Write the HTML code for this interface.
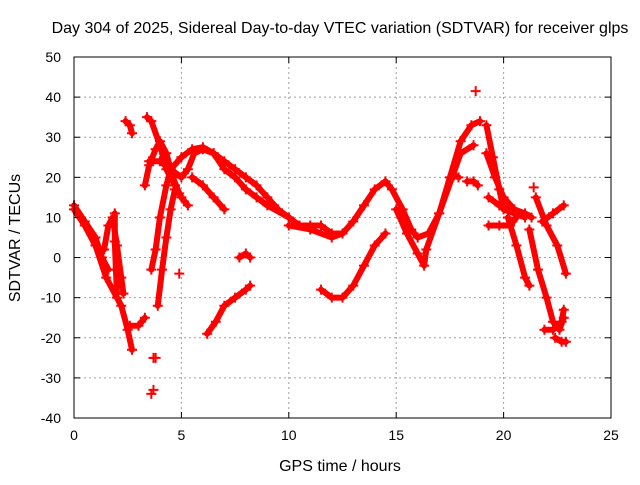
<!DOCTYPE html>
<html><head><meta charset="utf-8">
<style>
body{margin:0;background:#fff;}
svg text{font-family:"Liberation Sans",sans-serif;fill:#000;}
</style></head>
<body>
<svg id="chart" width="640" height="480" viewBox="0 0 640 480" xmlns="http://www.w3.org/2000/svg">
<text x="340" y="33" font-size="16" text-anchor="middle">Day 304 of 2025, Sidereal Day-to-day VTEC variation (SDTVAR) for receiver glps</text>
<text x="340" y="471" font-size="16" text-anchor="middle">GPS time / hours</text>
<text x="20" y="238" font-size="16" text-anchor="middle" transform="rotate(-90 20 238)">SDTVAR / TECUs</text>
<g id="grid"></g>
<g id="marks"></g>
<rect x="74" y="57" width="537" height="361" fill="none" stroke="#000" stroke-width="1"/>
<g id="ticks"></g>
</svg>
<script>
const xTicks=[0,5,10,15,20,25];
const yTicks=[-40,-30,-20,-10,0,10,20,30,40,50];
const track1=[[0,13],[0.5,9],[1,5],[1.3,0],[1.6,-3]];
const track2=[[0,12],[0.5,8],[1,3],[1.5,-5],[2,-10],[2.2,-12],[2.5,-18],[2.7,-23]];
const track3=[[1.4,2],[1.6,8],[1.8,10],[2,3],[2.2,-5],[2.3,-9]];
const track4=[[1.9,11],[1.9,4],[1.95,-3],[2,-9]];
const track5=[[2.6,-17],[3,-17],[3.3,-15]];
const track6=[[2.4,34],[2.6,33],[2.7,31]];
const track7=[[3.4,35],[3.6,34],[4,28],[4.3,22],[4.7,18],[5,15],[5.3,13]];
const track8=[[3.3,18],[3.5,23],[3.8,27],[4,29],[4.3,26],[4.6,20],[4.9,16]];
const track9=[[3.5,24],[4,24],[4.5,22],[5,20],[5.3,22],[5.6,26],[6,27],[6.5,26],[7,24],[7.5,22],[8,20],[8.5,18],[9,15],[9.5,12],[10,10]];
const track10=[[4.5,22],[5,25],[5.5,27],[6,27.5],[6.5,26],[7,22],[7.5,20],[8,17],[8.5,15],[9,13],[10,10],[10.5,8],[11,8],[11.5,8],[12,6],[12.5,6],[13,9],[13.5,13],[14,17],[14.5,19],[14.8,17],[15.3,12],[15.7,7],[16,5],[16.5,6],[17,11],[17.5,20],[18,29],[18.5,33],[18.9,34]];
const track11=[[5.5,20],[6,18],[6.5,15],[7,12]];
const track12=[[10,8],[11,7],[12,5],[12.5,6]];
const track13=[[15,12],[15.5,6],[16,1],[16.3,-2],[16.4,2],[17,11],[17.6,20],[18,26],[18.6,28]];
const track14=[[3.6,-3],[3.8,2],[4,10],[4.3,18],[4.5,22]];
const track15=[[3.9,-12],[4.1,-3],[4.3,5],[4.5,12],[4.7,17]];
const track16=[[6.2,-19],[6.6,-16],[7,-12],[7.5,-10],[8,-8],[8.2,-7]];
const track17=[[7.7,0],[8,1],[8.2,0]];
const track18=[[11.5,-8],[12,-10],[12.5,-10],[13,-7],[13.5,-2],[14,3],[14.5,6]];
const track19=[[19.2,33],[19.5,25],[19.8,17],[20,12],[20.5,11],[21,10]];
const track20=[[19.2,26],[19.6,20],[20,15],[20.5,12],[21,11],[21.3,10]];
const track21=[[19.3,15],[19.8,13],[20.3,12]];
const track22=[[19.3,8],[19.8,8],[20.3,8],[20.6,10]];
const track23=[[20.2,10],[20.6,3],[21,-5],[21.2,-7]];
const track24=[[21.2,7],[21.6,-3],[22,-10],[22.3,-16],[22.6,-18],[22.8,-15]];
const track25=[[21.5,15],[22,8],[22.5,3],[22.9,-4]];
const track26=[[21.9,-18],[22.3,-18],[22.7,-16],[22.8,-13]];
const track27=[[22.4,-20],[22.7,-21],[22.9,-21]];
const track28=[[21.8,9],[22.3,11],[22.8,13]];
const track29=[[17.7,20.5],[17.9,20]];
const track30=[[18.3,19],[18.6,19],[18.8,18]];
const dots=[[4.9,-4],[3.7,-25],[3.8,-25],[3.6,-34],[3.7,-33],[21.4,17.5],[18.7,41.5]];
const tracks=[track1,track2,track3,track4,track5,track6,track7,track8,track9,track10,track11,track12,track13,track14,track15,track16,track17,track18,track19,track20,track21,track22,track23,track24,track25,track26,track27,track28,track29,track30];

const NS="http://www.w3.org/2000/svg";
const X0=74,X1=611,Y0=418,Y1=57;
function sx(v){return X0+(v-0)/(25-0)*(X1-X0);}
function sy(v){return Y0-(v+40)/(90)*(Y0-Y1);}
const grid=document.getElementById('grid'),ticks=document.getElementById('ticks'),marks=document.getElementById('marks');
function mk(tag,attrs,parent){const e=document.createElementNS(NS,tag);for(const k in attrs)e.setAttribute(k,attrs[k]);parent.appendChild(e);return e;}
xTicks.forEach(t=>{
  const x=sx(t);
  if(t>0&&t<25){const g=mk('line',{x1:x,x2:x,y1:Y1,y2:Y0,stroke:'#a0a0a0','stroke-dasharray':'2,3'},grid);
  
  }
  mk('line',{x1:x,x2:x,y1:Y0,y2:Y0-6,stroke:'#000'},ticks);
  mk('line',{x1:x,x2:x,y1:Y1,y2:Y1+6,stroke:'#000'},ticks);
  const l=mk('text',{x:x,y:Y0+22,'font-size':'14','text-anchor':'middle'},ticks);
  l.textContent=t;
  
  
});
yTicks.forEach(t=>{
  const y=sy(t);
  if(t>-40&&t<50){const g=mk('line',{x1:X0,x2:X1,y1:y,y2:y,stroke:'#a0a0a0','stroke-dasharray':'2,3'},grid);
  
  }
  mk('line',{x1:X0,x2:X0+6,y1:y,y2:y,stroke:'#000'},ticks);
  mk('line',{x1:X1,x2:X1-6,y1:y,y2:y,stroke:'#000'},ticks);
  const l=mk('text',{x:X0-13,y:y+5,'font-size':'14','text-anchor':'end'},ticks);
  l.textContent=t;
  
  
});
function plus(p){
  const x=sx(p[0]),y=sy(p[1]);
  const m=mk('path',{d:`M${x-5},${y}H${x+5}M${x},${y-5}V${y+5}`,stroke:'#f00','stroke-width':'2'},marks);
  
  
}
tracks.forEach(tr=>{
  const pl=mk('polyline',{points:tr.map(p=>sx(p[0])+','+sy(p[1])).join(' '),fill:'none',stroke:'#f00','stroke-width':'6','stroke-linejoin':'round','stroke-linecap':'round'},marks);
  
  
  tr.forEach(plus);
});
dots.forEach(plus);
</script>
</body></html>
